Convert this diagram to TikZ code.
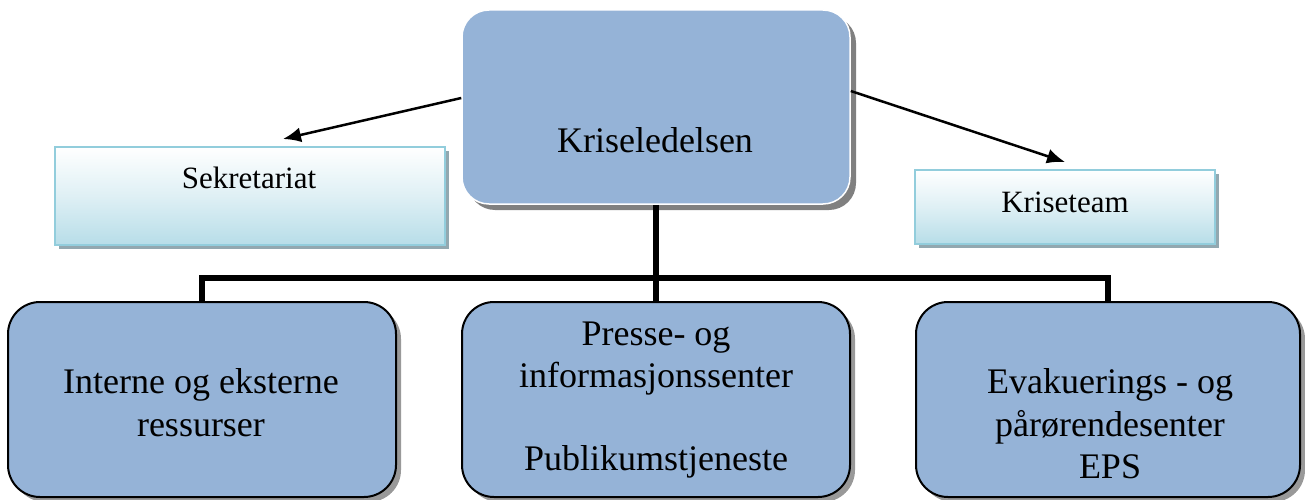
\documentclass[tikz,border=0pt]{standalone}
\usepackage{fontspec}
\setmainfont{Liberation Serif}
\usetikzlibrary{shadows,arrows.meta,calc}
\definecolor{boxblue}{RGB}{149,179,215}
\definecolor{lightb}{RGB}{183,221,232}
\definecolor{edgeb}{RGB}{146,205,220}
\definecolor{shadg}{RGB}{128,128,128}
\definecolor{shadl}{RGB}{146,168,176}
\tikzset{
  bigbox/.style={rounded corners=27pt, fill=boxblue, draw=white, line width=1.5pt,
    drop shadow={shadow xshift=6pt, shadow yshift=-6pt, fill=shadg, opacity=1}},
  lowbox/.style={rounded corners=32pt, fill=boxblue, draw=black, line width=2pt,
    drop shadow={shadow xshift=5pt, shadow yshift=-5pt, fill=shadg, opacity=0.8}},
  lightbox/.style={draw=edgeb, line width=2pt, top color=white, bottom color=lightb,
    middle color=lightb!45!white,
    drop shadow={shadow xshift=4pt, shadow yshift=-4pt, fill=shadl, opacity=1}},
  bigtxt/.style={anchor=base, inner sep=0pt, font=\fontsize{36}{40}\selectfont},
  smalltxt/.style={anchor=base, inner sep=0pt, font=\fontsize{31}{36}\selectfont},
  arr/.style={line width=2.5pt, -{Latex[length=18pt,width=15pt]}},
  tree/.style={line width=6pt, line join=miter, line cap=butt},
}
\begin{document}
\begin{tikzpicture}[x=1pt,y=-1pt]
\useasboundingbox (0,0) rectangle (1305,500);

\node[lightbox, minimum width=390pt, minimum height=98pt] (sek) at (250,196) {};
\node[lightbox, minimum width=300pt, minimum height=74pt] (kt) at (1065,207) {};
\node[bigbox, minimum width=388pt, minimum height=194pt] (kl) at (656,107) {};

\node[lowbox, minimum width=388pt, minimum height=195pt] (b1) at (202,399.5) {};
\node[lowbox, minimum width=388pt, minimum height=195pt] (b2) at (656,399.5) {};
\node[lowbox, minimum width=384pt, minimum height=195pt] (b3) at (1108,399.5) {};

% texts
\node[bigtxt] (tkl) at (655,152) {Kriseledelsen};
\node[smalltxt] (tsek) at (249,188) {Sekretariat};
\node[smalltxt] (tkt) at (1065,212) {Kriseteam};

\node[bigtxt] (t1a) at (201,393) {Interne og eksterne};
\node[bigtxt] (t1b) at (201,436) {ressurser};

\node[bigtxt] (t2a) at (656,345) {Presse- og};
\node[bigtxt] (t2b) at (656,387) {informasjonssenter};
\node[bigtxt] (t2c) at (656,470) {Publikumstjeneste};

\node[bigtxt] (t3a) at (1110,393) {Evakuerings - og};
\node[bigtxt] (t3b) at (1110,436) {pårørendesenter};
\node[bigtxt] (t3c) at (1110,478) {EPS};

% arrows
\coordinate (sa) at (283,139);
\coordinate (ka) at (1065,162);
\draw[arr] ($(kl.west)+(0,-9)$) -- (sa);
\draw[arr] ($(kl.east)+(0,-16)$) -- (ka);

% tree
\coordinate (hl) at (0,278);
\draw[tree] (kl.south) -- (b2.north);
\draw[tree] (b1.north) -- (b1.north |- hl) -- (b3.north |- hl) -- (b3.north);
\end{tikzpicture}
\end{document}
